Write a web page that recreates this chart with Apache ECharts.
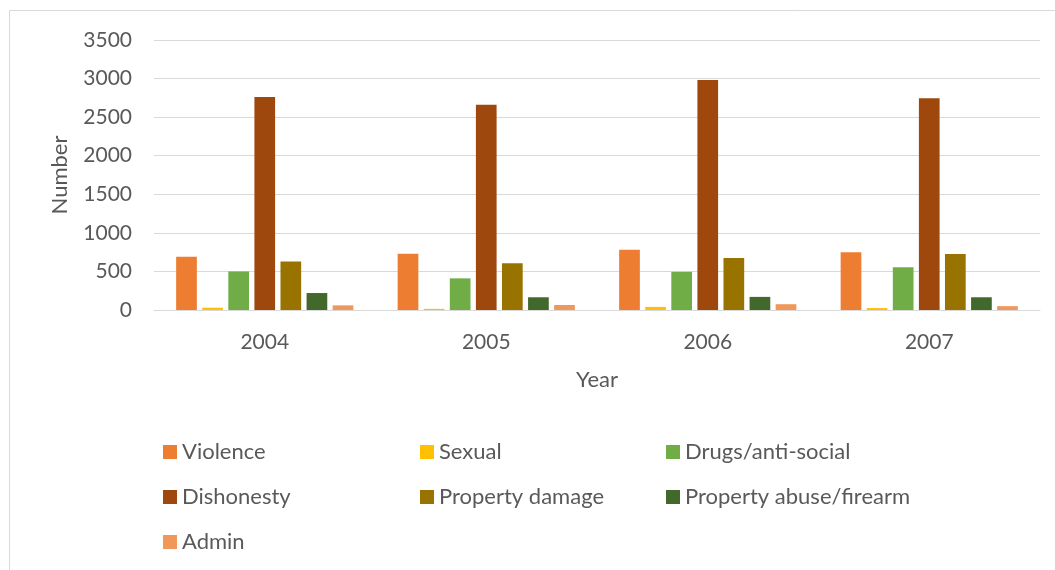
<!DOCTYPE html>
<html>
<head>
<meta charset="utf-8">
<title>Offences by category, 2004–2007</title>
<script src="https://cdn.jsdelivr.net/npm/echarts@6/dist/echarts.min.js"></script>
<style>
  html, body { margin: 0; padding: 0; background: #fff; }
  #chart { width: 1055px; height: 570px; }
</style>
</head>
<body>
<div id="chart"></div>
<script>
// Years on the category axis
const years = ['2004', '2005', '2006', '2007'];

// Offence counts per year, one array per category
const violence = [690, 730, 780, 750];
const sexual = [30, 15, 40, 25];
const drugs = [500, 410, 495, 555];
const dishonesty = [2760, 2660, 2980, 2745];
const propertyDamage = [630, 605, 675, 725];
const propertyAbuse = [220, 165, 170, 165];
const admin = [60, 65, 75, 50];

// Value-axis ticks
const yMax = 3500;
const yStep = 500;

const names = ['Violence', 'Sexual', 'Drugs/anti-social', 'Dishonesty',
  'Property damage', 'Property abuse/firearm', 'Admin'];
const values = [violence, sexual, drugs, dishonesty, propertyDamage, propertyAbuse, admin];
const colors = ['#ED7D31', '#FFC000', '#70AD47', '#9E480E', '#997300', '#43682B', '#F1975A'];

const FONT = 'Lato, "Noto Sans", sans-serif';
const TEXT = '#595959';

const chart = echarts.init(document.getElementById('chart'), null, { renderer: 'canvas' });

const legendBase = {
  orient: 'vertical',
  padding: 0,
  itemWidth: 14,
  itemHeight: 14,
  itemGap: 23,
  icon: 'rect',
  selectedMode: false,
  textStyle: { color: TEXT, fontSize: 22, fontFamily: FONT, lineHeight: 22 }
};

chart.setOption({
  animation: false,
  color: colors,
  textStyle: { fontFamily: FONT },
  graphic: [{
    type: 'rect',
    shape: { x: 9.5, y: 10.5, width: 1100, height: 700 },
    style: { fill: 'none', stroke: '#d9d9d9', lineWidth: 1 },
    silent: true
  }],
  grid: { left: 154, right: 15, top: 40, height: 270 },
  legend: [
    Object.assign({ left: 163, top: 441, data: [names[0], names[3], names[6]] }, legendBase),
    Object.assign({ left: 420, top: 441, data: [names[1], names[4]] }, legendBase),
    Object.assign({ left: 666, top: 441, data: [names[2], names[5]] }, legendBase)
  ],
  xAxis: {
    type: 'category',
    data: years,
    name: 'Year',
    nameLocation: 'middle',
    nameGap: 59,
    nameTextStyle: { color: TEXT, fontSize: 22, fontFamily: FONT },
    axisLine: { lineStyle: { color: '#d9d9d9', width: 1 } },
    axisTick: { show: false },
    axisLabel: { color: TEXT, fontSize: 21, fontFamily: FONT, margin: 22 }
  },
  yAxis: {
    type: 'value',
    min: 0,
    max: yMax,
    interval: yStep,
    name: 'Number',
    nameLocation: 'middle',
    nameGap: 83,
    nameTextStyle: { color: TEXT, fontSize: 22, fontFamily: FONT },
    axisLine: { show: false },
    axisTick: { show: false },
    axisLabel: { color: TEXT, fontSize: 21, fontFamily: FONT, margin: 22, formatter: v => String(v) },
    splitLine: { lineStyle: { color: '#d9d9d9', width: 1 } }
  },
  series: names.map((n, i) => ({
    name: n,
    type: 'bar',
    data: values[i],
    barGap: '26%',
    barCategoryGap: '20%',
    itemStyle: { color: colors[i] }
  }))
});
</script>
</body>
</html>
